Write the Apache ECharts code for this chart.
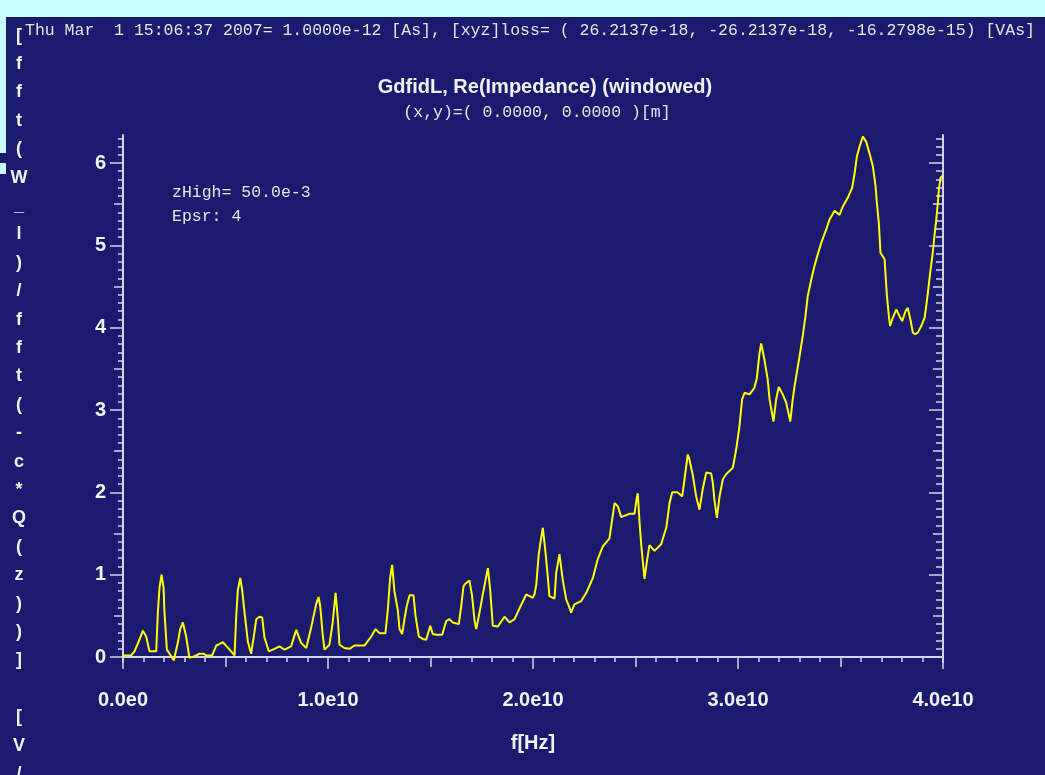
<!DOCTYPE html>
<html>
<head>
<meta charset="utf-8">
<title>GdfidL, Re(Impedance) (windowed)</title>
<script src="https://cdn.jsdelivr.net/npm/echarts@6.0.0/dist/echarts.min.js"></script>
<style>
    html, body { margin: 0; padding: 0; background: #1a1a6e; }
    #main { width: 1045px; height: 775px; }
</style>
</head>
<body>
<div id="main"></div>
<script>
// frequency in GHz, Re(Z)
var freqGHz = [0, 0.40, 0.56, 0.80, 0.97, 1.05, 1.13, 1.29, 1.62, 1.70,
    1.78, 1.88, 1.98, 2.02, 2.14, 2.35, 2.48, 2.67, 2.79, 2.92,
    3.08, 3.24, 3.49, 3.73, 3.93, 4.06, 4.35, 4.55, 4.87, 5.20,
    5.44, 5.52, 5.60, 5.72, 5.81, 5.93, 6.09, 6.25, 6.41, 6.50,
    6.66, 6.79, 6.90, 7.11, 7.39, 7.63, 7.88, 8.20, 8.45, 8.69,
    8.94, 9.18, 9.42, 9.54, 9.62, 9.75, 9.83, 10.07, 10.23, 10.37,
    10.48, 10.56, 10.80, 11.05, 11.29, 11.78, 12.11, 12.32, 12.51, 12.80,
    12.92, 13.03, 13.13, 13.24, 13.41, 13.49, 13.62, 13.73, 13.84, 13.98,
    14.17, 14.27, 14.43, 14.62, 14.79, 14.99, 15.11, 15.28, 15.57, 15.77,
    15.93, 16.09, 16.38, 16.50, 16.61, 16.74, 16.90, 17.03, 17.15, 17.23,
    17.39, 17.55, 17.72, 17.80, 17.91, 18.04, 18.28, 18.61, 18.85, 19.10,
    19.34, 19.67, 19.99, 20.07, 20.16, 20.28, 20.40, 20.48, 20.61, 20.72,
    20.80, 21.05, 21.13, 21.29, 21.45, 21.62, 21.78, 21.86, 22.02, 22.35,
    22.60, 22.92, 23.16, 23.40, 23.73, 23.86, 23.98, 24.06, 24.14, 24.30,
    24.71, 24.95, 25.06, 25.11, 25.20, 25.28, 25.44, 25.55, 25.68, 25.93,
    26.25, 26.50, 26.66, 26.79, 27.06, 27.28, 27.39, 27.55, 27.63, 27.80,
    27.96, 28.12, 28.28, 28.45, 28.69, 28.77, 28.85, 28.97, 29.10, 29.26,
    29.42, 29.75, 29.91, 30.07, 30.20, 30.32, 30.56, 30.80, 30.92, 31.05,
    31.13, 31.29, 31.45, 31.54, 31.73, 31.86, 31.99, 32.18, 32.35, 32.55,
    32.67, 32.76, 33.00, 33.16, 33.29, 33.40, 33.57, 33.73, 33.89, 34.06,
    34.30, 34.46, 34.71, 34.95, 35.11, 35.36, 35.57, 35.68, 35.80, 35.93,
    36.09, 36.25, 36.41, 36.58, 36.71, 36.77, 36.87, 36.95, 37.15, 37.26,
    37.36, 37.42, 37.55, 37.72, 37.88, 38.01, 38.17, 38.28, 38.41, 38.53,
    38.64, 38.77, 38.94, 39.10, 39.18, 39.26, 39.38, 39.50, 39.59, 39.67,
    39.75, 39.80, 39.88, 40.00];
var reZ = [0.02, 0.02, 0.07, 0.21, 0.32, 0.34, 0.25, 0.07, 0.07, 0.54,
    0.84, 1.00, 0.84, 0.56, 0.09, 0.01, -0.04, 0.17, 0.34, 0.42,
    0.25, -0.01, 0.01, 0.04, 0.04, 0.02, 0.02, 0.14, 0.18, 0.09,
    0.02, 0.48, 0.81, 0.96, 0.82, 0.54, 0.19, 0.04, 0.30, 0.46,
    0.49, 0.48, 0.24, 0.07, 0.10, 0.13, 0.09, 0.13, 0.33, 0.17,
    0.11, 0.36, 0.64, 0.73, 0.62, 0.25, 0.09, 0.15, 0.42, 0.78,
    0.46, 0.15, 0.11, 0.10, 0.14, 0.14, 0.25, 0.34, 0.29, 0.29,
    0.58, 0.96, 1.12, 0.80, 0.56, 0.34, 0.28, 0.46, 0.62, 0.75,
    0.75, 0.50, 0.25, 0.22, 0.21, 0.38, 0.28, 0.27, 0.27, 0.44,
    0.46, 0.42, 0.40, 0.62, 0.86, 0.90, 0.93, 0.74, 0.44, 0.34,
    0.54, 0.76, 0.98, 1.08, 0.82, 0.38, 0.37, 0.49, 0.42, 0.46,
    0.59, 0.76, 0.72, 0.76, 0.88, 1.25, 1.45, 1.57, 1.27, 0.98,
    0.74, 0.71, 1.02, 1.25, 0.94, 0.70, 0.60, 0.54, 0.64, 0.68,
    0.78, 0.96, 1.19, 1.34, 1.44, 1.67, 1.87, 1.89, 1.83, 1.70,
    1.74, 1.74, 1.93, 1.99, 1.63, 1.36, 0.95, 1.15, 1.36, 1.29,
    1.37, 1.57, 1.87, 2.00, 2.00, 1.95, 2.16, 2.46, 2.40, 2.20,
    1.95, 1.79, 2.04, 2.24, 2.23, 2.12, 1.91, 1.69, 1.95, 2.16,
    2.22, 2.30, 2.52, 2.80, 3.13, 3.21, 3.19, 3.27, 3.39, 3.69,
    3.81, 3.61, 3.37, 3.13, 2.86, 3.13, 3.28, 3.19, 3.09, 2.86,
    3.13, 3.29, 3.65, 3.90, 4.14, 4.38, 4.58, 4.75, 4.89, 5.03,
    5.19, 5.31, 5.42, 5.37, 5.47, 5.58, 5.70, 5.86, 6.08, 6.20,
    6.32, 6.26, 6.12, 5.96, 5.72, 5.53, 5.27, 4.91, 4.83, 4.40,
    4.14, 4.02, 4.12, 4.22, 4.14, 4.08, 4.20, 4.24, 4.10, 3.94,
    3.92, 3.94, 4.02, 4.12, 4.26, 4.42, 4.68, 4.91, 5.13, 5.31,
    5.52, 5.68, 5.82, 5.85];

var xTickLabels = ['0.0e0', '1.0e10', '2.0e10', '3.0e10', '4.0e10'];
var yTicks = [0, 1, 2, 3, 4, 5, 6];
var yHalfTicks = [0.5, 1.5, 2.5, 3.5, 4.5, 5.5];
var yMin = -0.06, yMax = 6.34;

var headerText = 'Thu Mar  1 15:06:37 2007= 1.0000e-12 [As], [xyz]loss= ( 26.2137e-18, -26.2137e-18, -16.2798e-15) [VAs]';
var titleText = 'GdfidL, Re(Impedance) (windowed)';
var subText = '(x,y)=( 0.0000, 0.0000 )[m]';
var notes = ['zHigh= 50.0e-3', 'Epsr: 4'];
var yName = '[fft(W_l)/fft(-c*Q(z))] [V/As]';

var bg = '#1a1a6e';
var cyan = '#c8ffff';
var axisColor = '#d4d4e4';
var textColor = '#f2f2f2';
var mono = '"Liberation Mono", "DejaVu Sans Mono", monospace';
var sans = '"Liberation Sans", Arial, sans-serif';

var yMinorTicks = [];
for (var t = 1; t < 64; t++) {
    if (t % 5 !== 0) yMinorTicks.push(t / 10);
}

var lineData = [];
for (var i = 0; i < freqGHz.length; i++) {
    lineData.push([freqGHz[i] * 1e9, reZ[i]]);
}

var myChart = echarts.init(document.getElementById('main'));
var axLine = { show: true, lineStyle: { color: axisColor, width: 2 } };
var tickStyle = { color: axisColor, width: 1.5 };

function yAx(pos, ticks, len, inside, withLine, withLabel) {
    return {
        type: 'value', position: pos, min: yMin, max: yMax,
        axisLine: withLine ? axLine : { show: false },
        axisTick: { show: true, inside: inside, length: len, customValues: ticks, lineStyle: tickStyle },
        axisLabel: withLabel ? {
            customValues: ticks, margin: 17, color: textColor,
            fontSize: 20, fontWeight: 'bold', fontFamily: sans
        } : { show: false },
        splitLine: { show: false }
    };
}

var option = {
    backgroundColor: bg,
    animation: false,
    grid: { left: 123, right: 102, top: 135, bottom: 113, containLabel: false },
    xAxis: [{
        type: 'value', position: 'bottom', min: 0, max: 4e10, interval: 1e10,
        axisLine: axLine,
        axisTick: { show: true, inside: false, length: 12, lineStyle: tickStyle },
        minorTick: { show: true, splitNumber: 10, length: 5, lineStyle: tickStyle },
        splitLine: { show: false },
        axisLabel: {
            margin: 28, color: textColor, fontSize: 20, fontWeight: 'bold', fontFamily: sans,
            formatter: function (v) { return xTickLabels[Math.round(v / 1e10)]; }
        },
        name: 'f[Hz]', nameLocation: 'middle', nameGap: 71,
        nameTextStyle: { color: textColor, fontSize: 20, fontWeight: 'bold', fontFamily: sans }
    }, {
        type: 'value', position: 'bottom', min: 0, max: 4e10, interval: 5e9,
        axisLine: { show: false },
        axisTick: { show: true, inside: false, length: 9, lineStyle: tickStyle },
        axisLabel: { show: false }, splitLine: { show: false }
    }, {
        type: 'value', position: 'top', min: 0, max: 4e10, interval: 5e9,
        axisLine: axLine,
        axisTick: { show: true, inside: true, length: 10, lineStyle: tickStyle },
        minorTick: { show: true, splitNumber: 5, length: 5, lineStyle: tickStyle },
        axisLabel: { show: false }, splitLine: { show: false }
    }],
    yAxis: [
        yAx('left', yTicks, 13, false, true, true),
        yAx('left', yHalfTicks, 9, false, false, false),
        yAx('left', yMinorTicks, 5, false, false, false),
        yAx('right', yTicks, 14, true, true, false),
        yAx('right', yHalfTicks, 10, true, false, false),
        yAx('right', yMinorTicks, 7, true, false, false)
    ],
    graphic: [
        { type: 'rect', shape: { x: 0, y: 0, width: 1045, height: 17 }, style: { fill: cyan } },
        { type: 'rect', shape: { x: 0, y: 17, width: 6, height: 136 }, style: { fill: cyan } },
        { type: 'rect', shape: { x: 0, y: 163, width: 6, height: 11 }, style: { fill: cyan } },
        { type: 'text', x: 25, y: 31, style: { text: headerText, font: '16.5px ' + mono, fill: '#e6e6e6', verticalAlign: 'middle' } },
        { type: 'text', x: 545, y: 87, style: { text: titleText, font: 'bold 20px ' + sans, fill: textColor, align: 'center', verticalAlign: 'middle' } },
        { type: 'text', x: 537, y: 113, style: { text: subText, font: '16.5px ' + mono, fill: '#e6e6e6', align: 'center', verticalAlign: 'middle' } },
        { type: 'text', x: 172, y: 193, style: { text: notes[0], font: '16.5px ' + mono, fill: '#e6e6e6', verticalAlign: 'middle' } },
        { type: 'text', x: 172, y: 217, style: { text: notes[1], font: '16.5px ' + mono, fill: '#e6e6e6', verticalAlign: 'middle' } },
        { type: 'text', x: 19, y: 21.5, style: {
            text: yName.split('').join('\n'), font: 'bold 18px ' + sans, fill: textColor,
            align: 'center', verticalAlign: 'top', lineHeight: 28.4
        } }
    ],
    series: [{
        type: 'line',
        xAxisIndex: 0,
        yAxisIndex: 0,
        data: lineData,
        showSymbol: false,
        clip: false,
        lineStyle: { color: '#ffff00', width: 2 }
    }]
};
myChart.setOption(option);
window.addEventListener('resize', function () {
    myChart.resize();
});
</script>
</body>
</html>
